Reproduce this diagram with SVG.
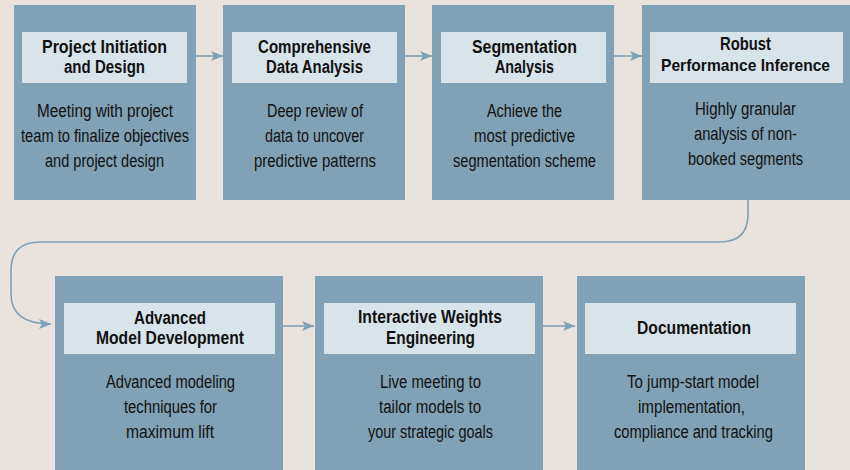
<svg xmlns="http://www.w3.org/2000/svg" width="850" height="470" viewBox="0 0 850 470">
<defs>
<style>
.box{fill:#80A1B6}
.hdr{fill:#D9E3EA}
.t{font-family:"Liberation Sans Narrow","Liberation Sans",Arial,sans-serif;font-weight:bold;font-size:18px;fill:#111;text-anchor:middle}
.b{font-family:"Liberation Sans Narrow","Liberation Sans",Arial,sans-serif;font-size:18px;fill:#111;text-anchor:middle}
.c{fill:none;stroke:#7FA0B5;stroke-width:1.6}
</style>
<marker id="ah" viewBox="0 0 12 10" refX="12" refY="5" markerWidth="12" markerHeight="10" markerUnits="userSpaceOnUse" orient="auto">
<path d="M0,0 L12,5 L0,10 L3,5 Z" fill="#7FA0B5"/>
</marker>
</defs>
<rect width="850" height="470" fill="#EAE3DD"/>
<g id="connectors">
<path class="c" d="M196,56 H223" marker-end="url(#ah)"/>
<path class="c" d="M405,56 H432" marker-end="url(#ah)"/>
<path class="c" d="M614,56 H642" marker-end="url(#ah)"/>
<path class="c" d="M748,200 V214 Q748,242 720,242 H40 Q11,242 11,271 V294 Q11,324 51,324" marker-end="url(#ah)"/>
<path class="c" d="M283,326 H314" marker-end="url(#ah)"/>
<path class="c" d="M543,326 H575" marker-end="url(#ah)"/>
</g>
<g id="n1">
<rect class="box" x="14" y="5" width="182" height="195"/>
<rect class="hdr" x="22" y="32" width="165" height="51"/>
<text class="t" x="104.5" y="52.7" textLength="125" lengthAdjust="spacingAndGlyphs">Project Initiation</text>
<text class="t" x="104.5" y="73.3" textLength="81" lengthAdjust="spacingAndGlyphs">and Design</text>
<text class="b" x="105" y="116.7" textLength="136" lengthAdjust="spacingAndGlyphs">Meeting with project</text>
<text class="b" x="105" y="141.7" textLength="168" lengthAdjust="spacingAndGlyphs">team to finalize objectives</text>
<text class="b" x="104.5" y="166.7" textLength="119" lengthAdjust="spacingAndGlyphs">and project design</text>
</g>
<g id="n2">
<rect class="box" x="223" y="5" width="182" height="195"/>
<rect class="hdr" x="232" y="32" width="165" height="51"/>
<text class="t" x="314.5" y="52.7" textLength="113" lengthAdjust="spacingAndGlyphs">Comprehensive</text>
<text class="t" x="314.5" y="73.3" textLength="97" lengthAdjust="spacingAndGlyphs">Data Analysis</text>
<text class="b" x="315" y="116.7" textLength="96" lengthAdjust="spacingAndGlyphs">Deep review of</text>
<text class="b" x="314.5" y="141.7" textLength="99" lengthAdjust="spacingAndGlyphs">data to uncover</text>
<text class="b" x="315" y="166.7" textLength="122" lengthAdjust="spacingAndGlyphs">predictive patterns</text>
</g>
<g id="n3">
<rect class="box" x="432" y="5" width="182" height="195"/>
<rect class="hdr" x="441" y="32" width="165" height="51"/>
<text class="t" x="524.5" y="52.7" textLength="105" lengthAdjust="spacingAndGlyphs">Segmentation</text>
<text class="t" x="524.5" y="73.3" textLength="59" lengthAdjust="spacingAndGlyphs">Analysis</text>
<text class="b" x="524.5" y="116.7" textLength="75" lengthAdjust="spacingAndGlyphs">Achieve the</text>
<text class="b" x="524.5" y="141.7" textLength="101" lengthAdjust="spacingAndGlyphs">most predictive</text>
<text class="b" x="524.5" y="166.7" textLength="143" lengthAdjust="spacingAndGlyphs">segmentation scheme</text>
</g>
<g id="n4">
<rect class="box" x="642" y="5" width="208" height="195"/>
<rect class="hdr" x="650" y="32" width="193" height="51"/>
<text class="t" x="745.5" y="50" textLength="51" lengthAdjust="spacingAndGlyphs">Robust</text>
<text class="t" x="745.5" y="71" style="font-size:17px" textLength="169" lengthAdjust="spacingAndGlyphs">Performance Inference</text>
<text class="b" x="745.5" y="115" textLength="101" lengthAdjust="spacingAndGlyphs">Highly granular</text>
<text class="b" x="745.5" y="140" textLength="103" lengthAdjust="spacingAndGlyphs">analysis of non-</text>
<text class="b" x="745.5" y="165" textLength="115" lengthAdjust="spacingAndGlyphs">booked segments</text>
</g>
<g id="n5">
<rect class="box" x="55" y="276" width="228" height="200"/>
<rect class="hdr" x="64" y="303" width="211" height="51"/>
<text class="t" x="170" y="324" textLength="72" lengthAdjust="spacingAndGlyphs">Advanced</text>
<text class="t" x="170" y="344.3" textLength="148" lengthAdjust="spacingAndGlyphs">Model Development</text>
<text class="b" x="170.5" y="388" textLength="129" lengthAdjust="spacingAndGlyphs">Advanced modeling</text>
<text class="b" x="170.5" y="413" textLength="93" lengthAdjust="spacingAndGlyphs">techniques for</text>
<text class="b" x="170" y="438" textLength="88" lengthAdjust="spacingAndGlyphs">maximum lift</text>
</g>
<g id="n6">
<rect class="box" x="315" y="276" width="228" height="200"/>
<rect class="hdr" x="324" y="303" width="211" height="51"/>
<text class="t" x="430" y="323.3" textLength="144" lengthAdjust="spacingAndGlyphs">Interactive Weights</text>
<text class="t" x="430.5" y="344" textLength="89" lengthAdjust="spacingAndGlyphs">Engineering</text>
<text class="b" x="430.5" y="388" textLength="101" lengthAdjust="spacingAndGlyphs">Live meeting to</text>
<text class="b" x="430" y="413" textLength="102" lengthAdjust="spacingAndGlyphs">tailor models to</text>
<text class="b" x="430.5" y="438" textLength="125" lengthAdjust="spacingAndGlyphs">your strategic goals</text>
</g>
<g id="n7">
<rect class="box" x="577" y="276" width="228" height="200"/>
<rect class="hdr" x="585" y="303" width="211" height="51"/>
<text class="t" x="694" y="334" textLength="114" lengthAdjust="spacingAndGlyphs">Documentation</text>
<text class="b" x="693" y="388" textLength="132" lengthAdjust="spacingAndGlyphs">To jump-start model</text>
<text class="b" x="691.5" y="413" textLength="107" lengthAdjust="spacingAndGlyphs">implementation,</text>
<text class="b" x="693.5" y="438" textLength="159" lengthAdjust="spacingAndGlyphs">compliance and tracking</text>
</g>
</svg>
